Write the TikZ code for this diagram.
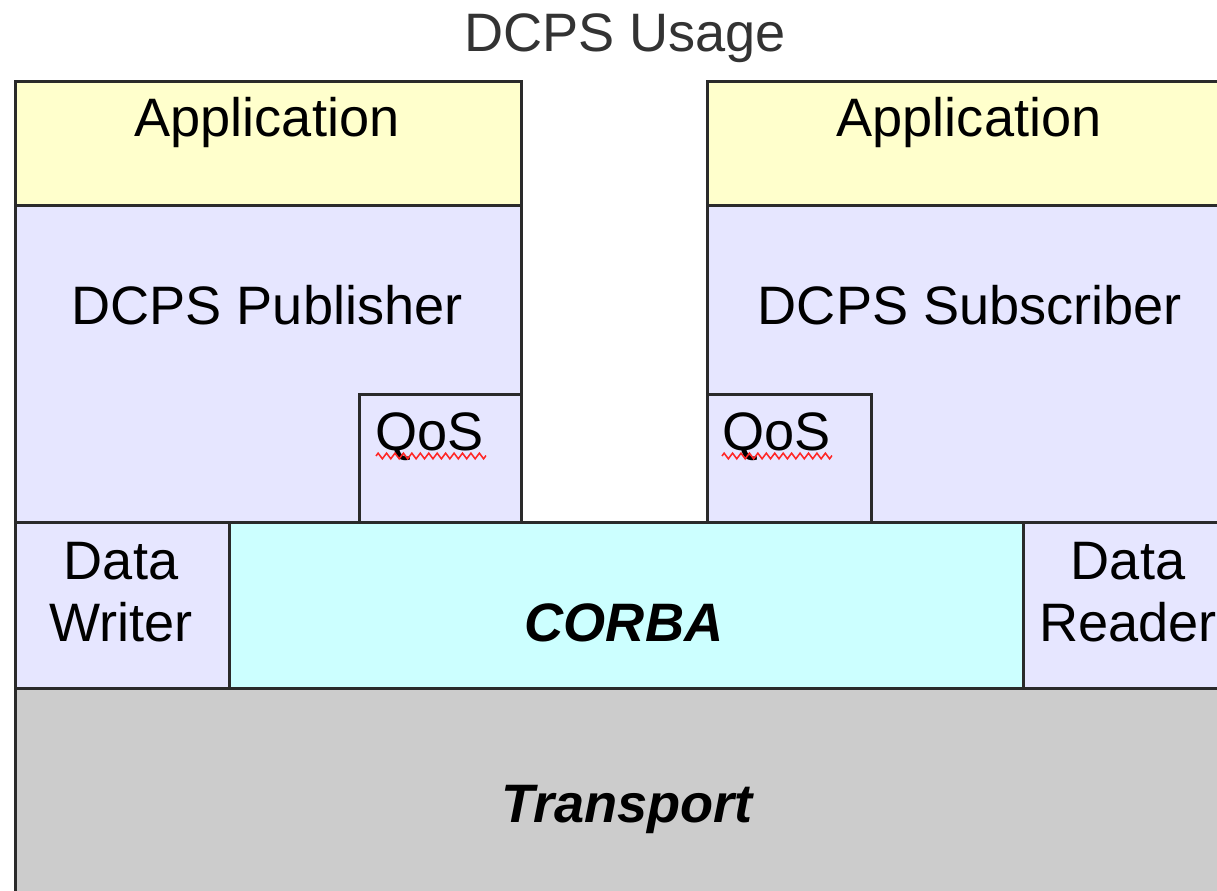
\documentclass[tikz,border=0pt]{standalone}
\usepackage{fontspec}
\setmainfont{Liberation Sans}
\usetikzlibrary{decorations.pathmorphing}
\definecolor{appyellow}{HTML}{FFFFCC}
\definecolor{lav}{HTML}{E6E6FF}
\definecolor{corbacyan}{HTML}{CCFFFF}
\definecolor{transgray}{HTML}{CCCCCC}
\definecolor{edge}{HTML}{2A2A2A}
\definecolor{titlegray}{HTML}{333333}
\tikzset{
  blk/.style={draw=edge, line width=2pt, inner sep=0pt, anchor=north west},
  lbl/.style={font=\fontsize{38.5}{44}\selectfont, inner sep=0pt, anchor=base, text=black},
  wavy/.style={draw=red!85, line width=1.1pt, decorate, decoration={zigzag, segment length=6, amplitude=2}}
}
\newcommand{\bx}[6]{% name, x1, y1, x2, y2, fill
  \node[blk, fill=#6, minimum width={(#4-#2)*0.025cm}, minimum height={(#5-#3)*0.025cm}] (#1) at (#2,#3) {};}
\begin{document}
\begin{tikzpicture}[x=0.025cm,y=-0.025cm]
\useasboundingbox (0,0) rectangle (1217,891);
\clip (0,0) rectangle (1217,891);
\fill[white] (0,0) rectangle (1217,891);
% title
\node[lbl, text=titlegray] (title) at (625,52) {DCPS Usage};
% left column
\bx{apL}{14}{80}{520}{204}{appyellow}
\bx{pub}{14}{204}{520}{521}{lav}
\bx{qosL}{358}{393}{520}{521}{lav}
% right column
\bx{apR}{706}{80}{1232}{204}{appyellow}
\bx{sub}{706}{204}{1232}{521}{lav}
\bx{qosR}{706}{393}{870}{521}{lav}
% middle row
\bx{corba}{228}{521}{1022}{687}{corbacyan}
\bx{dw}{14}{521}{228}{687}{lav}
\bx{dr}{1022}{521}{1236}{687}{lav}
% transport
\bx{trans}{14}{687}{1240}{910}{transgray}
% labels
\node[lbl] (tApL) at (267,137) {Application};
\node[lbl] (tApR) at (969,137) {Application};
\node[lbl] (tPub) at (267,325) {DCPS Publisher};
\node[lbl] (tSub) at (970,325) {DCPS Subscriber};
\node[lbl, anchor=base west] (tQL) at (375,451) {QoS};
\node[lbl, anchor=base west] (tQR) at (722,451) {QoS};
\draw[wavy] (376,456) -- (486,456);
\draw[wavy] (722,456) -- (832,456);
\node[lbl] (tDW1) at (121,580) {Data};
\node[lbl] (tDW2) at (121,641) {Writer};
\node[lbl] (tDR1) at (1128,580) {Data};
\node[lbl] (tDR2) at (1128,641) {Reader};
\node[lbl, font=\fontsize{38.5}{44}\selectfont\bfseries\itshape] (tCorba) at (624,641) {CORBA};
\node[lbl, font=\fontsize{38.5}{44}\selectfont\bfseries\itshape] (tTrans) at (627,822) {Transport};
\end{tikzpicture}
\end{document}
